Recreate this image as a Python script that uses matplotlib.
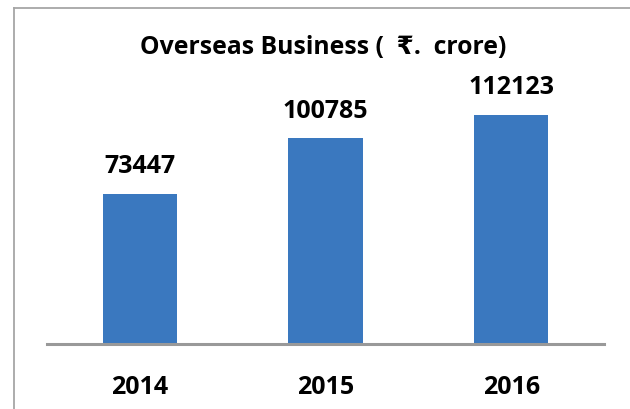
import matplotlib.pyplot as plt
from matplotlib.lines import Line2D

# ── Data ──────────────────────────────────────────────────────────────────────
years  = ['2014', '2015', '2016']
values = [73447, 100785, 112123]

TITLE = 'Overseas Business (  \u20b9.  crore)'
FONT  = ['Open Sans', 'DejaVu Sans']
W, H  = 630, 409

plt.rcParams['font.family'] = FONT

fig = plt.figure(figsize=(W / 100, H / 100), dpi=100)
fig.patch.set_facecolor('white')

# axes placed in pixel terms: x from 47 to 604, baseline at y=344
ymax = 160000
px_per_unit = 229 / 112123
ax_h = ymax * px_per_unit
ax = fig.add_axes([47 / W, (H - 344) / H, (604 - 47) / W, ax_h / H])

x = range(len(years))
bars = ax.bar(x, values, width=0.40, color='#3a78bf')
ax.set_xlim(-0.5, 2.5)
ax.set_ylim(0, ymax)

for b, v in zip(bars, values):
    ax.text(b.get_x() + b.get_width() / 2, v + 27 / px_per_unit, str(v),
            ha='center', va='center', fontsize=18, fontweight='bold')

for s in ['top', 'right', 'left']:
    ax.spines[s].set_visible(False)
ax.spines['bottom'].set_color('#999999')
ax.spines['bottom'].set_linewidth(2.2)
ax.set_yticks([])
ax.set_xticks(list(x))
ax.set_xticklabels(years, fontsize=18, fontweight='bold')
ax.tick_params(axis='x', length=0, pad=22)

fig.text(323 / W, 1 - 48 / H, TITLE, ha='center', va='center',
         fontsize=17.8, fontweight='bold')

# outer chart frame (cropped at right and bottom)
fig.add_artist(Line2D([14 / W, 14 / W], [0, 1 - 8 / H], color='#a6a6a6', lw=1.3))
fig.add_artist(Line2D([14 / W, 1], [1 - 8 / H, 1 - 8 / H], color='#a6a6a6', lw=1.3))

plt.savefig('out.png', dpi=100)
